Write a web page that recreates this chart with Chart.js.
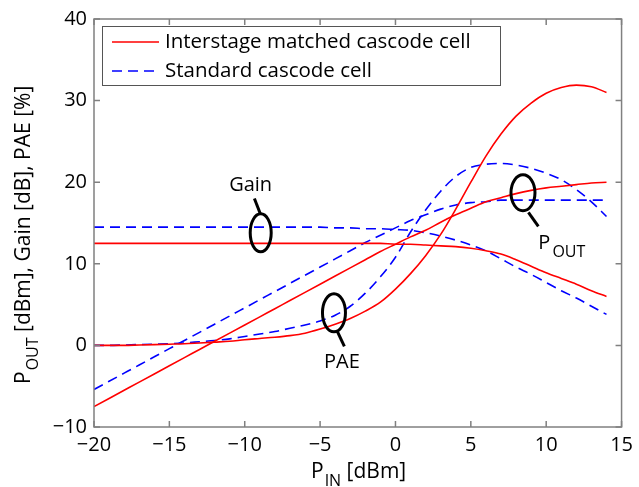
<!DOCTYPE html>
<html>
<head>
<meta charset="utf-8">
<script src="https://cdn.jsdelivr.net/npm/chart.js@4.4.1/dist/chart.umd.min.js"></script>
<style>
  html, body { margin: 0; padding: 0; background: #fff; }
  #wrap { width: 639px; height: 487px; }
</style>
</head>
<body>
<div id="wrap"><canvas id="c" width="639" height="487"></canvas></div>
<script>
// ---- data ----
const pin = [-20,-19,-18,-17,-16,-15,-14,-13,-12,-11,-10,-9,-8,-7,-6,-5,-4,-3,-2,-1,0,1,2,3,4,5,6,7,8,9,10,11,12,13,14];

const interGain = [12.5,12.5,12.5,12.5,12.5,12.5,12.5,12.5,12.5,12.5,12.5,12.5,12.5,12.5,12.5,12.5,12.5,12.5,12.5,12.5,
                   12.4,12.4,12.3,12.2,12.1,11.9,11.6,11.2,10.5,9.7,8.9,8.2,7.5,6.7,6.0];
const interPout = [-7.5,-6.5,-5.5,-4.5,-3.5,-2.5,-1.5,-0.5,0.5,1.5,2.5,3.5,4.5,5.5,6.5,7.5,8.5,9.5,10.5,11.5,
                   12.4,13.3,14.1,15.1,16.0,16.8,17.6,18.1,18.6,19.0,19.3,19.5,19.7,19.9,20.0];
const interPae  = [0,0,0,0.05,0.1,0.15,0.2,0.3,0.4,0.5,0.7,0.85,1.0,1.2,1.5,2.0,2.6,3.3,4.2,5.3,
                   6.9,8.8,11.0,13.6,16.7,20.0,23.2,25.9,28.1,29.7,30.9,31.6,31.9,31.7,31.0];

const stdGain = [14.5,14.5,14.5,14.5,14.5,14.5,14.5,14.5,14.5,14.5,14.5,14.5,14.5,14.5,14.5,14.5,14.4,14.4,14.3,14.3,
                 14.2,14.1,13.8,13.4,12.9,12.3,11.6,10.6,9.6,8.7,7.7,6.7,5.8,4.8,3.8];
const stdPout = [-5.4,-4.4,-3.4,-2.4,-1.4,-0.4,0.6,1.6,2.6,3.6,4.6,5.6,6.6,7.6,8.6,9.6,10.6,11.6,12.6,13.5,
                 14.4,15.3,16.0,16.7,17.2,17.5,17.6,17.8,17.8,17.8,17.8,17.8,17.8,17.8,17.8];
const stdPae  = [0,0,0.05,0.1,0.15,0.2,0.3,0.45,0.6,0.8,1.1,1.4,1.7,2.1,2.5,3.0,3.7,4.8,6.4,8.4,
                 10.8,13.9,16.6,18.9,20.7,21.8,22.2,22.3,22.1,21.7,21.1,20.3,19.1,17.6,15.8];

const xTicks = [-20,-15,-10,-5,0,5,10,15];
const yTicks = [-10,0,10,20,30,40];

const seriesNames = ['Interstage matched cascode cell','Standard cascode cell'];

// annotation anchors in data units (x = PIN, y = value)
const annGain = { cx:-8.94, cy:13.8, tail:[-8.96,16.1,-9.36,18.0], label:'Gain', lx:-9.61, ly:19.6 };
const annPae  = { cx:-4.08, cy:4.0,  tail:[-3.85,1.7,-3.39,-0.12], label:'PAE', lx:-3.55, ly:-2.07 };
const annPout = { cx:8.46,  cy:18.7, tail:[8.82,16.3,9.48,14.6], label:'P', sub:'OUT', lx:9.48, ly:12.56 };

// ---- build ----
const toXY = arr => arr.map((v,i)=>({x:pin[i], y:v}));
const RED = '#ff0000', BLUE = '#0000ff';
const FONT = '"Open Sans", "DejaVu Sans", sans-serif';
const mk = (arr, color, dashed, label) => ({
  label, data: toXY(arr), borderColor: color, backgroundColor: color,
  borderWidth: 1.6, borderDash: dashed ? [10,6] : [], pointRadius: 0,
  cubicInterpolationMode: 'monotone', fill: false
});

const frameAndAnn = {
  id: 'frameAndAnn',
  afterDatasetsDraw(chart) {
    const {ctx, chartArea:a, scales:{x, y}} = chart;
    ctx.save();
    // frame
    ctx.strokeStyle = '#808080'; ctx.lineWidth = 1.5; ctx.setLineDash([]);
    ctx.strokeRect(a.left, a.top, a.right-a.left, a.bottom-a.top);
    // inward ticks
    const tl = 6;
    ctx.beginPath();
    xTicks.forEach(v => { const px = x.getPixelForValue(v);
      ctx.moveTo(px, a.bottom); ctx.lineTo(px, a.bottom - tl);
      ctx.moveTo(px, a.top); ctx.lineTo(px, a.top + tl); });
    yTicks.forEach(v => { const py = y.getPixelForValue(v);
      ctx.moveTo(a.left, py); ctx.lineTo(a.left + tl, py);
      ctx.moveTo(a.right, py); ctx.lineTo(a.right - tl, py); });
    ctx.stroke();

    // annotations
    ctx.strokeStyle = '#000'; ctx.fillStyle = '#000'; ctx.lineWidth = 3;
    [[annGain,10.5,19],[annPae,11.5,19],[annPout,12,18]].forEach(([an,rx,ry]) => {
      ctx.beginPath();
      ctx.ellipse(x.getPixelForValue(an.cx), y.getPixelForValue(an.cy), rx, ry, 0, 0, Math.PI*2);
      ctx.stroke();
      ctx.beginPath();
      ctx.moveTo(x.getPixelForValue(an.tail[0]), y.getPixelForValue(an.tail[1]));
      ctx.lineTo(x.getPixelForValue(an.tail[2]), y.getPixelForValue(an.tail[3]));
      ctx.stroke();
    });
    ctx.textBaseline = 'middle';
    ctx.font = '20px ' + FONT;
    ctx.textAlign = 'center';
    ctx.fillText(annGain.label, x.getPixelForValue(annGain.lx), y.getPixelForValue(annGain.ly));
    ctx.fillText(annPae.label, x.getPixelForValue(annPae.lx), y.getPixelForValue(annPae.ly));
    ctx.textAlign = 'left';
    const px0 = x.getPixelForValue(annPout.lx), py0 = y.getPixelForValue(annPout.ly);
    ctx.fillText(annPout.label, px0, py0);
    const pw = ctx.measureText(annPout.label).width;
    ctx.font = '16px ' + FONT;
    ctx.fillText(annPout.sub, px0 + pw + 2, py0 + 10);

    // legend box
    const lx = a.left + 8, ly = a.top + 7, lw = 398, lh = 59;
    ctx.fillStyle = '#fff';
    ctx.fillRect(lx, ly, lw, lh);
    ctx.strokeStyle = '#555'; ctx.lineWidth = 1;
    ctx.strokeRect(lx + 0.5, ly + 0.5, lw, lh);
    const ds = chart.data.datasets;
    [[ds[0], 16],[ds[3], 45]].forEach(([d, dy], i) => {
      ctx.strokeStyle = d.borderColor; ctx.lineWidth = 1.6;
      ctx.setLineDash(d.borderDash);
      ctx.beginPath(); ctx.moveTo(lx + 10, ly + dy); ctx.lineTo(lx + 57, ly + dy); ctx.stroke();
      ctx.setLineDash([]);
      ctx.fillStyle = '#000'; ctx.font = '20.5px ' + FONT; ctx.textAlign = 'left'; ctx.textBaseline = 'middle';
      ctx.fillText(seriesNames[i], lx + 63, ly + dy);
    });

    // axis titles
    ctx.fillStyle = '#000'; ctx.textBaseline = 'alphabetic'; ctx.textAlign = 'left';
    // x title
    let tx = 311, ty = 478;
    ctx.font = '21px ' + FONT; ctx.fillText('P', tx, ty); tx += ctx.measureText('P').width + 1;
    ctx.font = '16px ' + FONT; ctx.fillText('IN', tx, ty + 8); tx += ctx.measureText('IN').width;
    ctx.font = '21px ' + FONT; ctx.fillText(' [dBm]', tx, ty);
    // y title
    ctx.save();
    ctx.translate(30, 384); ctx.rotate(-Math.PI/2);
    let t = 0;
    ctx.font = '21px ' + FONT; ctx.fillText('P', t, 0); t += ctx.measureText('P').width + 1;
    ctx.font = '16px ' + FONT; ctx.fillText('OUT', t, 8); t += ctx.measureText('OUT').width;
    ctx.font = '21px ' + FONT; ctx.fillText(' [dBm], Gain [dB], PAE [%]', t, 0);
    ctx.restore();
    ctx.restore();
  }
};

new Chart(document.getElementById('c'), {
  type: 'line',
  data: { datasets: [
    mk(interGain, RED, false, seriesNames[0]),
    mk(interPout, RED, false, seriesNames[0]),
    mk(interPae,  RED, false, seriesNames[0]),
    mk(stdGain, BLUE, true, seriesNames[1]),
    mk(stdPout, BLUE, true, seriesNames[1]),
    mk(stdPae,  BLUE, true, seriesNames[1])
  ]},
  options: {
    responsive: false, animation: false, devicePixelRatio: 1,
    layout: { padding: { top: 17, right: 12, left: 0, bottom: 0 } },
    plugins: { legend: { display: false }, tooltip: { enabled: false } },
    scales: {
      x: { type: 'linear', min: -20, max: 15,
        afterBuildTicks: s => { s.ticks = xTicks.map(v => ({value: v})); },
        afterFit: s => { s.height = 60; },
        grid: { display: false, drawTicks: false }, border: { display: false },
        ticks: { color: '#000', font: { size: 20, family: FONT }, padding: 6, maxRotation: 0,
          callback: v => String(v).replace('-', '\u2212') } },
      y: { type: 'linear', min: -10, max: 40,
        afterBuildTicks: s => { s.ticks = yTicks.map(v => ({value: v})); },
        afterFit: s => { s.width = 94; },
        grid: { display: false, drawTicks: false }, border: { display: false },
        ticks: { color: '#000', font: { size: 20, family: FONT }, padding: 7,
          callback: v => String(v).replace('-', '\u2212') } }
    }
  },
  plugins: [frameAndAnn]
});
</script>
</body>
</html>
